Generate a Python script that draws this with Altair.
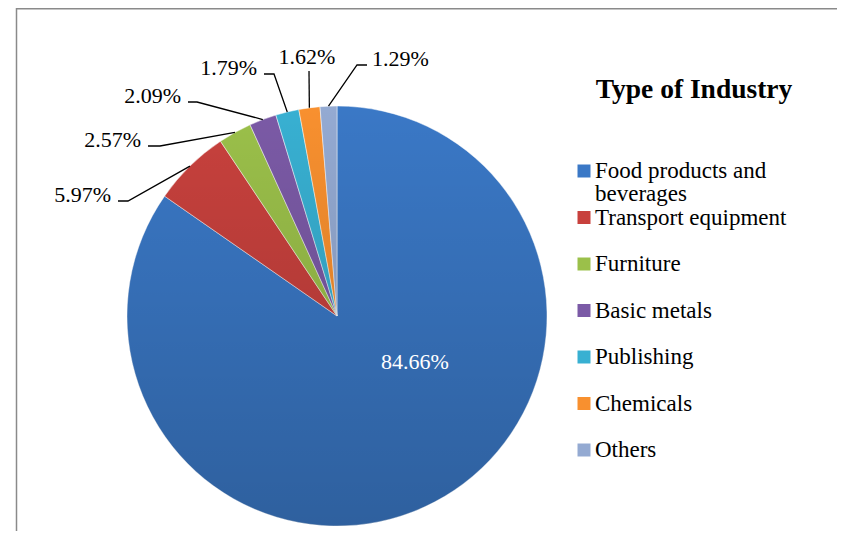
import textwrap
import numpy as np
import pandas as pd
import altair as alt

# ---------------- data ----------------
industries = ["Food products and beverages", "Transport equipment", "Furniture",
              "Basic metals", "Publishing", "Chemicals", "Others"]
shares = [84.66, 5.97, 2.57, 2.09, 1.79, 1.62, 1.29]
colors = ["#3a78c6", "#c8413d", "#9bc04a", "#7b5aa6", "#38b0d2", "#f8902f", "#94aad2"]
legend_title = "Type of Industry"

# ---------------- layout (page pixels) ----------------
W, H = 829, 523
CX, CY, R = 337, 316, 210
FONT = "Liberation Serif"
# manual label placement: elbow point, end of leader, alignment
LABEL_LAYOUT = {
    1: dict(ex=128, ey=201, hx=118, hy=201, align="right"),
    2: dict(ex=160, ey=146, hx=148, hy=146, align="right"),
    3: dict(ex=197, ey=102, hx=188, hy=102, align="right"),
    4: dict(ex=274, ey=74, hx=264, hy=74, align="right"),
    5: dict(ex=309, ey=71, hx=309, hy=71, align="center"),
    6: dict(ex=357, ey=65, hx=367, hy=65, align="left"),
}
INNER_LABEL = (415, 369)
LEG_SYM_X, LEG_TXT_X, LEG_Y0, LEG_DY = 584, 595, 171, 46.5
TITLE_POS = (694, 98)

xs = alt.Scale(domain=[8, 8 + W], range=[0, W])
ys = alt.Scale(domain=[8, 8 + H], range=[0, H])


def X(field=None, datum=None):
    if field is not None:
        return alt.X(field, type="quantitative", scale=xs, axis=None)
    return alt.X(datum=datum, type="quantitative", scale=xs, axis=None)


def Y(field=None, datum=None):
    if field is not None:
        return alt.Y(field, type="quantitative", scale=ys, axis=None)
    return alt.Y(datum=datum, type="quantitative", scale=ys, axis=None)


df = pd.DataFrame({"industry": industries, "share": shares, "idx": range(len(shares))})
df["label"] = [f"{s:.2f}%" for s in shares]

pie = alt.Chart(df).mark_arc(outerRadius=R, stroke="white", strokeWidth=0.8, strokeOpacity=0.6).encode(
    theta=alt.Theta("share:Q", stack=True),
    color=alt.Color("industry:N", scale=alt.Scale(domain=industries, range=colors), legend=None),
    order=alt.Order("idx:Q"),
    x=X(datum=CX),
    y=Y(datum=CY),
)

shade = alt.Chart(pd.DataFrame({"a": [0]})).mark_arc(
    outerRadius=R, theta=0, theta2=2 * np.pi,
    fill=alt.Gradient(gradient="linear",
                      stops=[alt.GradientStop(color="rgba(0,0,0,0)", offset=0),
                             alt.GradientStop(color="rgba(0,0,0,0.2)", offset=1)],
                      x1=0, x2=0, y1=0, y2=1),
).encode(x=X(datum=CX), y=Y(datum=CY))

# leader lines: start at slice edge on its mid-angle
cum = np.cumsum(shares)
mid = (cum - np.array(shares) / 2) / cum[-1] * 2 * np.pi
rows = []
txt_rows = []
for i, L in LABEL_LAYOUT.items():
    px, py = CX + R * np.sin(mid[i]), CY - R * np.cos(mid[i])
    pts = [(px, py), (L["ex"], L["ey"]), (L["hx"], L["hy"])]
    for k, (x, y) in enumerate(pts):
        rows.append({"slice": i, "k": k, "x": x, "y": y})
    if L["align"] == "right":
        tx, ty = L["hx"] - 7, L["hy"] + 0.5
    elif L["align"] == "left":
        tx, ty = L["hx"] + 5, L["hy"] + 0.5
    else:
        tx, ty = L["hx"] - 2, L["hy"] - 7
    txt_rows.append({"label": df["label"][i], "x": tx, "y": ty, "al": L["align"]})
lines_df = pd.DataFrame(rows)
txt_df = pd.DataFrame(txt_rows)

leaders = alt.Chart(lines_df).mark_line(color="black", strokeWidth=1.3).encode(
    x=X("x"), y=Y("y"), detail="slice:N", order="k:Q")

label_layers = []
for al in ["right", "left", "center"]:
    label_layers.append(
        alt.Chart(txt_df[txt_df["al"] == al]).mark_text(
            align=al, baseline="alphabetic", font=FONT, fontSize=22, color="black"
        ).encode(x=X("x"), y=Y("y"), text="label:N"))

inner = alt.Chart(df.iloc[[0]]).mark_text(
    align="center", baseline="alphabetic", font=FONT, fontSize=22, color="white"
).encode(x=X(datum=INNER_LABEL[0]), y=Y(datum=INNER_LABEL[1]), text="label:N")

# legend (manual)
leg = df.copy()
leg["wrapped"] = [textwrap.fill(n, 19) for n in industries]
leg["yc"] = LEG_Y0 + leg["idx"] * LEG_DY
leg["yt"] = leg["yc"] + 7
leg["xs"] = LEG_SYM_X
leg["xt"] = LEG_TXT_X

leg_sym = alt.Chart(leg).mark_square(size=169, opacity=1).encode(
    x=X("xs"), y=Y("yc"),
    color=alt.Color("industry:N", scale=alt.Scale(domain=industries, range=colors), legend=None))
leg_txt = alt.Chart(leg).mark_text(
    align="left", baseline="alphabetic", font=FONT, fontSize=23, color="black",
    lineBreak="\n", lineHeight=23
).encode(x=X("xt"), y=Y("yt"), text="wrapped:N")

title = alt.Chart(pd.DataFrame({"t": [legend_title]})).mark_text(
    align="center", baseline="alphabetic", font=FONT, fontSize=27.5, fontWeight="bold", color="black"
).encode(x=X(datum=TITLE_POS[0]), y=Y(datum=TITLE_POS[1]), text="t:N")

# frame (top and left edges)
frame_left = alt.Chart(pd.DataFrame({"a": [0]})).mark_rule(color="#8a8a8a", strokeWidth=1.5).encode(
    x=X(datum=16.5), y=Y(datum=8), y2=alt.Y2(datum=8 + H))
frame_top = alt.Chart(pd.DataFrame({"a": [0]})).mark_rule(color="#8a8a8a", strokeWidth=1.5).encode(
    y=Y(datum=8.75), x=X(datum=16), x2=alt.X2(datum=8 + W))

chart = alt.layer(
    pie, shade, leaders, *label_layers, inner, leg_sym, leg_txt, title, frame_left, frame_top
).properties(
    width=W, height=H, padding=0, autosize=alt.AutoSizeParams(type="none")
).configure_view(stroke=None)

chart.save("out.html", embed_options={"renderer": "svg", "actions": False})
